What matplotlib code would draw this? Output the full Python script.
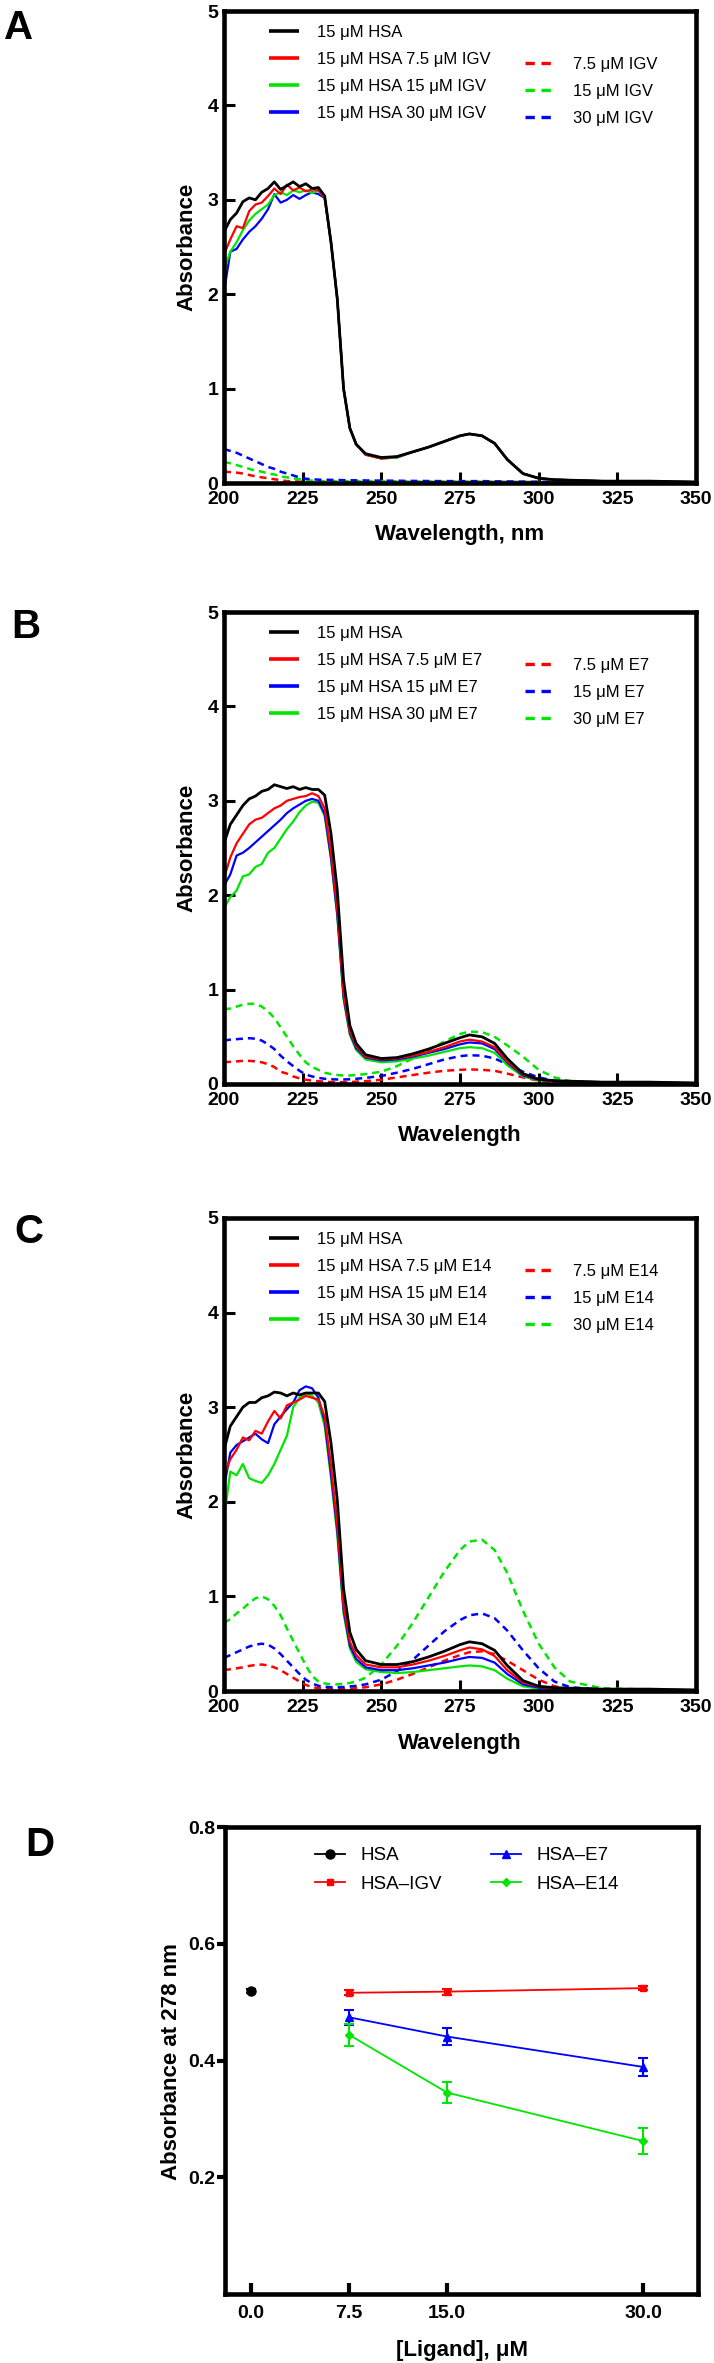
import matplotlib
matplotlib.use('Agg')
import matplotlib.pyplot as plt
from matplotlib.lines import Line2D

plt.rcParams['font.family'] = ['Liberation Sans', 'DejaVu Sans']
plt.rcParams['font.weight'] = 'bold'

RED = '#ff0000'
BLUE = '#0000ff'
GREEN = '#00e600'
BLACK = '#000000'

# wavelength grid (nm) shared by all spectra
wl = [200, 202, 204, 206, 208, 210, 212, 214, 216, 218, 220, 222, 224, 226, 228, 230,
      232, 234, 236, 238, 240, 242, 245, 250, 255, 260, 265, 270, 275, 278,
      282, 286, 290, 295, 300, 305, 310, 320, 335, 350]

# ---- panel A : IGV ----
a_hsa = [2.66, 2.79, 2.86, 2.98, 3.02, 3.00, 3.08, 3.12, 3.19, 3.11, 3.15, 3.19, 3.14, 3.17, 3.12, 3.13,
         3.04, 2.55, 1.95, 1.00, 0.58, 0.41, 0.31, 0.27, 0.28, 0.33, 0.38, 0.44, 0.50, 0.52,
         0.50, 0.42, 0.25, 0.10, 0.05, 0.035, 0.03, 0.02, 0.02, 0.01]
a_75 = [2.42, 2.58, 2.72, 2.70, 2.88, 2.95, 2.97, 3.04, 3.12, 3.06, 3.16, 3.10, 3.13, 3.09, 3.11, 3.10,
        3.02, 2.55, 1.95, 1.00, 0.58, 0.41, 0.30, 0.26, 0.28, 0.33, 0.38, 0.44, 0.50, 0.52,
        0.50, 0.42, 0.25, 0.10, 0.05, 0.035, 0.03, 0.02, 0.02, 0.01]
a_15 = [2.26, 2.45, 2.55, 2.68, 2.78, 2.85, 2.90, 2.95, 3.05, 3.08, 3.05, 3.10, 3.08, 3.10, 3.07, 3.10,
        3.02, 2.55, 1.95, 1.00, 0.58, 0.41, 0.30, 0.26, 0.27, 0.33, 0.38, 0.44, 0.50, 0.52,
        0.50, 0.42, 0.25, 0.10, 0.05, 0.035, 0.03, 0.02, 0.02, 0.01]
a_30 = [2.02, 2.45, 2.48, 2.58, 2.66, 2.72, 2.80, 2.90, 3.06, 2.97, 3.00, 3.05, 3.01, 3.05, 3.08, 3.06,
        3.02, 2.55, 1.95, 1.00, 0.58, 0.41, 0.30, 0.26, 0.27, 0.33, 0.38, 0.44, 0.50, 0.52,
        0.50, 0.42, 0.25, 0.10, 0.05, 0.035, 0.03, 0.02, 0.02, 0.01]
a_lig75 = [0.12, 0.115, 0.11, 0.10, 0.085, 0.07, 0.06, 0.05, 0.04, 0.03, 0.02, 0.018, 0.015, 0.012, 0.01, 0.01,
           0.01, 0.01, 0.01, 0.01, 0.01, 0.01, 0.01, 0.01, 0.01, 0.01, 0.01, 0.01, 0.01, 0.01,
           0.01, 0.01, 0.01, 0.01, 0.01, 0.008, 0.008, 0.006, 0.005, 0.005]
a_lig15 = [0.22, 0.21, 0.19, 0.17, 0.15, 0.13, 0.12, 0.10, 0.09, 0.07, 0.06, 0.05, 0.04, 0.03, 0.025, 0.02,
           0.02, 0.02, 0.02, 0.02, 0.02, 0.02, 0.02, 0.02, 0.018, 0.016, 0.015, 0.015, 0.015, 0.015,
           0.014, 0.013, 0.012, 0.01, 0.01, 0.008, 0.007, 0.006, 0.005, 0.005]
a_lig30 = [0.36, 0.34, 0.32, 0.29, 0.26, 0.23, 0.20, 0.17, 0.15, 0.12, 0.10, 0.08, 0.06, 0.045, 0.04, 0.035,
           0.035, 0.033, 0.032, 0.03, 0.03, 0.028, 0.027, 0.025, 0.024, 0.022, 0.021, 0.02, 0.02, 0.02,
           0.02, 0.018, 0.017, 0.015, 0.013, 0.012, 0.01, 0.008, 0.006, 0.005]

# ---- panel B : E7 ----
b_hsa = [2.55, 2.75, 2.85, 2.95, 3.02, 3.05, 3.10, 3.12, 3.17, 3.15, 3.13, 3.15, 3.12, 3.14, 3.12, 3.12,
         3.06, 2.65, 2.05, 1.10, 0.62, 0.43, 0.31, 0.27, 0.28, 0.32, 0.37, 0.43, 0.49, 0.52,
         0.50, 0.43, 0.27, 0.11, 0.05, 0.035, 0.03, 0.02, 0.02, 0.01]
b_75 = [2.18, 2.40, 2.55, 2.65, 2.75, 2.80, 2.82, 2.87, 2.92, 2.95, 3.00, 3.02, 3.04, 3.05, 3.08, 3.05,
        2.92, 2.45, 1.85, 0.95, 0.56, 0.40, 0.29, 0.26, 0.27, 0.30, 0.34, 0.39, 0.45, 0.47,
        0.45, 0.39, 0.24, 0.10, 0.05, 0.03, 0.025, 0.02, 0.015, 0.01]
b_15 = [2.10, 2.22, 2.42, 2.45, 2.50, 2.56, 2.62, 2.68, 2.74, 2.80, 2.87, 2.92, 2.96, 3.00, 3.02, 3.00,
        2.86, 2.40, 1.80, 0.92, 0.54, 0.38, 0.28, 0.25, 0.26, 0.29, 0.33, 0.37, 0.42, 0.44,
        0.43, 0.37, 0.23, 0.09, 0.045, 0.03, 0.025, 0.02, 0.015, 0.01]
b_30 = [1.86, 1.98, 2.05, 2.20, 2.22, 2.30, 2.33, 2.45, 2.50, 2.60, 2.70, 2.78, 2.88, 2.95, 2.99, 2.98,
        2.84, 2.38, 1.78, 0.90, 0.52, 0.36, 0.26, 0.23, 0.24, 0.27, 0.30, 0.34, 0.38, 0.39,
        0.38, 0.33, 0.20, 0.08, 0.04, 0.03, 0.02, 0.015, 0.01, 0.01]
b_lig75 = [0.23, 0.235, 0.24, 0.245, 0.245, 0.24, 0.23, 0.21, 0.18, 0.13, 0.11, 0.08, 0.06, 0.045, 0.035, 0.03,
           0.025, 0.02, 0.02, 0.02, 0.02, 0.025, 0.03, 0.045, 0.07, 0.095, 0.12, 0.14, 0.15, 0.155,
           0.15, 0.14, 0.11, 0.07, 0.035, 0.02, 0.012, 0.01, 0.01, 0.008]
b_lig15 = [0.46, 0.47, 0.475, 0.48, 0.485, 0.48, 0.46, 0.42, 0.37, 0.30, 0.24, 0.19, 0.14, 0.10, 0.08, 0.065,
           0.055, 0.05, 0.048, 0.048, 0.05, 0.055, 0.065, 0.085, 0.12, 0.16, 0.21, 0.26, 0.295, 0.305,
           0.30, 0.27, 0.21, 0.13, 0.07, 0.035, 0.02, 0.012, 0.01, 0.008]
b_lig30 = [0.79, 0.80, 0.82, 0.84, 0.85, 0.85, 0.82, 0.77, 0.70, 0.60, 0.50, 0.40, 0.31, 0.23, 0.18, 0.15,
           0.12, 0.105, 0.095, 0.09, 0.09, 0.095, 0.105, 0.13, 0.19, 0.27, 0.36, 0.45, 0.53, 0.555,
           0.55, 0.50, 0.41, 0.29, 0.15, 0.07, 0.03, 0.015, 0.01, 0.008]

# ---- panel C : E14 ----
c_hsa = [2.55, 2.80, 2.90, 3.00, 3.05, 3.05, 3.10, 3.12, 3.16, 3.15, 3.12, 3.15, 3.13, 3.15, 3.15, 3.15,
         3.06, 2.62, 2.02, 1.08, 0.62, 0.44, 0.32, 0.28, 0.28, 0.31, 0.36, 0.42, 0.49, 0.52,
         0.50, 0.43, 0.27, 0.11, 0.05, 0.035, 0.03, 0.02, 0.02, 0.01]
c_75 = [2.27, 2.45, 2.55, 2.68, 2.65, 2.75, 2.72, 2.85, 2.96, 2.88, 3.02, 3.05, 3.08, 3.12, 3.10, 3.08,
        2.90, 2.38, 1.75, 0.90, 0.52, 0.38, 0.28, 0.25, 0.25, 0.28, 0.32, 0.37, 0.43, 0.46,
        0.44, 0.37, 0.22, 0.09, 0.045, 0.03, 0.025, 0.02, 0.015, 0.01]
c_15 = [2.15, 2.52, 2.60, 2.64, 2.68, 2.72, 2.66, 2.62, 2.82, 2.90, 2.98, 3.05, 3.18, 3.22, 3.20, 3.10,
        2.85, 2.30, 1.70, 0.86, 0.48, 0.34, 0.25, 0.22, 0.22, 0.24, 0.27, 0.30, 0.34, 0.36,
        0.35, 0.30, 0.18, 0.07, 0.035, 0.025, 0.02, 0.015, 0.01, 0.01]
c_30 = [1.82, 2.32, 2.28, 2.40, 2.25, 2.22, 2.20, 2.28, 2.40, 2.55, 2.70, 3.00, 3.10, 3.15, 3.12, 3.05,
        2.80, 2.25, 1.65, 0.82, 0.45, 0.31, 0.23, 0.20, 0.19, 0.20, 0.22, 0.24, 0.26, 0.27,
        0.26, 0.22, 0.13, 0.05, 0.025, 0.02, 0.015, 0.012, 0.01, 0.008]
c_lig75 = [0.22, 0.23, 0.24, 0.25, 0.265, 0.275, 0.28, 0.27, 0.25, 0.22, 0.18, 0.14, 0.10, 0.065, 0.04, 0.03,
           0.025, 0.02, 0.02, 0.022, 0.025, 0.03, 0.04, 0.07, 0.12, 0.18, 0.25, 0.32, 0.38, 0.41,
           0.42, 0.39, 0.32, 0.22, 0.12, 0.05, 0.02, 0.01, 0.01, 0.008]
c_lig15 = [0.35, 0.38, 0.41, 0.44, 0.47, 0.49, 0.50, 0.49, 0.45, 0.39, 0.32, 0.25, 0.18, 0.12, 0.08, 0.055,
           0.045, 0.04, 0.04, 0.042, 0.048, 0.055, 0.07, 0.12, 0.21, 0.33, 0.48, 0.63, 0.75, 0.80,
           0.82, 0.77, 0.64, 0.43, 0.24, 0.10, 0.04, 0.015, 0.01, 0.008]
c_lig30 = [0.72, 0.76, 0.82, 0.87, 0.93, 0.98, 1.00, 0.97, 0.90, 0.80, 0.66, 0.53, 0.40, 0.27, 0.16, 0.10,
           0.08, 0.07, 0.07, 0.075, 0.085, 0.10, 0.14, 0.28, 0.48, 0.72, 0.99, 1.26, 1.49, 1.58,
           1.60, 1.49, 1.25, 0.85, 0.50, 0.25, 0.10, 0.03, 0.015, 0.01]

# ---- panel D : absorbance at 278 nm ----
d_hsa_x = [0.0]
d_hsa_y = [0.519]
d_hsa_err = [0.004]
d_conc = [7.5, 15.0, 30.0]
d_igv = [0.516, 0.518, 0.524]
d_igv_err = [0.004, 0.005, 0.003]
d_e7 = [0.474, 0.441, 0.389]
d_e7_err = [0.013, 0.014, 0.016]
d_e14 = [0.444, 0.345, 0.262]
d_e14_err = [0.019, 0.018, 0.022]
d_xticks = [0.0, 7.5, 15.0, 30.0]
d_xticklabels = ['0.0', '7.5', '15.0', '30.0']
d_yticks = [0.2, 0.4, 0.6, 0.8]

W, H = 714, 2363
fig = plt.figure(figsize=(W / 100, H / 100), dpi=100)


def rect(left, top, right, bottom):
    return [left / W, 1 - bottom / H, (right - left) / W, (bottom - top) / H]


DASH = (2.8, 2.0)
LEG = dict(loc='upper left', frameon=False, borderpad=0, borderaxespad=0,
           handlelength=1.8, handletextpad=1.1, labelspacing=0.72,
           prop={'weight': 'normal', 'size': 12})


def spectrum(ax, solids, dashes, xlabel):
    dash_lines = []
    for y, col, lab in dashes:
        ln, = ax.plot(wl, y, color=col, lw=1.8, dashes=DASH, label=lab)
        dash_lines.append(ln)
    solid_lines = []
    for y, col, lab in solids[::-1]:
        ln, = ax.plot(wl, y, color=col, lw=1.6 if col != BLACK else 2.0, label=lab)
        solid_lines.append(ln)
    solid_lines = solid_lines[::-1]
    for ln in solid_lines:
        ln.set_solid_capstyle('butt')

    ax.set_xlim(200, 350)
    ax.set_ylim(0, 5)
    ax.set_xticks([200, 225, 250, 275, 300, 325, 350])
    ax.set_yticks([0, 1, 2, 3, 4, 5])
    ax.tick_params(direction='in', length=8, width=2.2, labelsize=14, pad=6)
    ax.tick_params(axis='y', pad=4)
    for s in ax.spines.values():
        s.set_linewidth(3.3)
    ax.set_xlabel(xlabel, fontsize=16, fontweight='bold')
    ax.xaxis.set_label_coords(0.5, -0.11)
    ax.xaxis.label.set_va('center')
    ax.set_ylabel('Absorbance', fontsize=16, fontweight='bold')
    ax.yaxis.set_label_coords(-0.078, 0.5)
    ax.yaxis.label.set_va('center')

    leg1 = ax.legend(handles=solid_lines, bbox_to_anchor=(0.095, 0.97), **LEG)
    for h in leg1.legend_handles:
        h.set_linewidth(2.6)
    ax.add_artist(leg1)
    leg2 = ax.legend(handles=dash_lines, bbox_to_anchor=(0.638, 0.903), **LEG)
    for h in leg2.legend_handles:
        h.set_linewidth(2.4)


axA = fig.add_axes(rect(224, 11, 696, 483))
spectrum(axA,
         [(a_hsa, BLACK, '15 μM HSA'), (a_75, RED, '15 μM HSA 7.5 μM IGV'),
          (a_15, GREEN, '15 μM HSA 15 μM IGV'), (a_30, BLUE, '15 μM HSA 30 μM IGV')],
         [(a_lig75, RED, '7.5 μM IGV'), (a_lig15, GREEN, '15 μM IGV'), (a_lig30, BLUE, '30 μM IGV')],
         'Wavelength, nm')

axB = fig.add_axes(rect(224, 612, 696, 1084))
spectrum(axB,
         [(b_hsa, BLACK, '15 μM HSA'), (b_75, RED, '15 μM HSA 7.5 μM E7'),
          (b_15, BLUE, '15 μM HSA 15 μM E7'), (b_30, GREEN, '15 μM HSA 30 μM E7')],
         [(b_lig75, RED, '7.5 μM E7'), (b_lig15, BLUE, '15 μM E7'), (b_lig30, GREEN, '30 μM E7')],
         'Wavelength')

axC = fig.add_axes(rect(224, 1218, 696, 1691))
spectrum(axC,
         [(c_hsa, BLACK, '15 μM HSA'), (c_75, RED, '15 μM HSA 7.5 μM E14'),
          (c_15, BLUE, '15 μM HSA 15 μM E14'), (c_30, GREEN, '15 μM HSA 30 μM E14')],
         [(c_lig75, RED, '7.5 μM E14'), (c_lig15, BLUE, '15 μM E14'), (c_lig30, GREEN, '30 μM E14')],
         'Wavelength')

# panel D
axD = fig.add_axes(rect(225, 1827, 698, 2294))
eb = dict(capsize=3.5, elinewidth=1.5, capthick=1.5, lw=1.3)
axD.errorbar(d_conc, d_igv, yerr=d_igv_err, color=RED, marker='s', ms=4.5, **eb)
axD.errorbar(d_conc, d_e7, yerr=d_e7_err, color=BLUE, marker='^', ms=5.5, **eb)
axD.errorbar(d_conc, d_e14, yerr=d_e14_err, color=GREEN, marker='D', ms=4.2, **eb)
axD.errorbar(d_hsa_x, d_hsa_y, yerr=d_hsa_err, color=BLACK, marker='o', ms=6.5, **eb)
h_hsa = Line2D([], [], color=BLACK, marker='o', ms=6.5, lw=1.3)
h_igv = Line2D([], [], color=RED, marker='s', ms=4.5, lw=1.3)
h_e7 = Line2D([], [], color=BLUE, marker='^', ms=5.5, lw=1.3)
h_e14 = Line2D([], [], color=GREEN, marker='D', ms=4.2, lw=1.3)
legD = dict(loc='upper left', frameon=False, borderpad=0, borderaxespad=0, numpoints=1,
            handlelength=1.6, handletextpad=0.85, labelspacing=0.6,
            prop={'weight': 'normal', 'size': 13.5})
l1 = axD.legend([h_hsa, h_igv], ['HSA', 'HSA–IGV'], bbox_to_anchor=(0.19, 0.957), **legD)
axD.add_artist(l1)
axD.legend([h_e7, h_e14], ['HSA–E7', 'HSA–E14'], bbox_to_anchor=(0.562, 0.957), **legD)

axD.set_xlim(-2.0, 34.2)
axD.set_ylim(0, 0.8)
axD.set_xticks(d_xticks)
axD.set_xticklabels(d_xticklabels)
axD.set_yticks(d_yticks)
axD.set_yticklabels(['%.1f' % v for v in d_yticks])
axD.tick_params(axis='x', direction='in', length=8, width=3, labelsize=14, pad=8)
axD.tick_params(axis='y', direction='out', length=5.5, width=3, labelsize=14, pad=1.5)
for s in axD.spines.values():
    s.set_linewidth(3.3)
axD.set_xlabel('[Ligand], μM', fontsize=16, fontweight='bold')
axD.xaxis.set_label_coords(0.5, -0.12)
axD.xaxis.label.set_va('center')
axD.set_ylabel('Absorbance at 278 nm', fontsize=16, fontweight='bold')
axD.yaxis.set_label_coords(-0.114, 0.497)
axD.yaxis.label.set_va('center')

# panel letters
for letter, x, top in [('A', 4, 9), ('B', 11, 608), ('C', 14, 1213), ('D', 25, 1826)]:
    fig.text(x / W, 1 - top / H, letter, fontsize=29, fontweight='bold', ha='left', va='top')

fig.savefig('out.png', dpi=100)
